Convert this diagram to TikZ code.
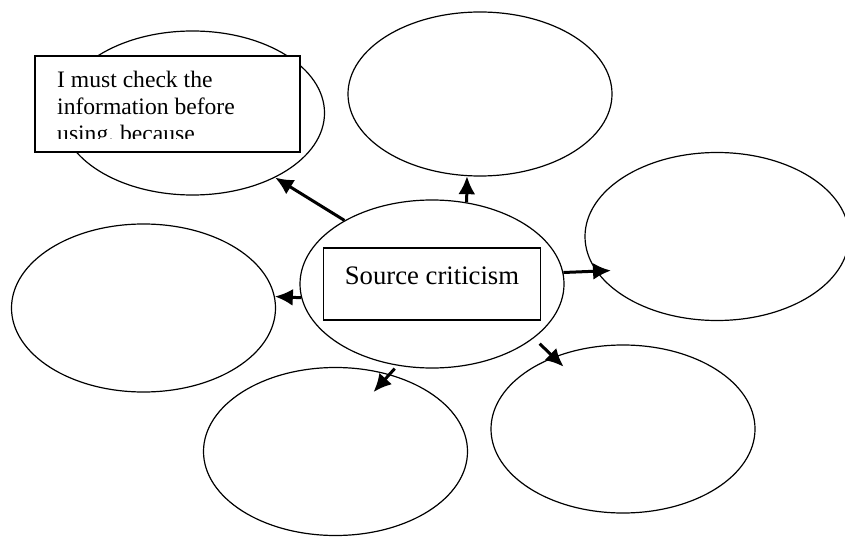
\documentclass[tikz,border=0pt]{standalone}
\usepackage{fontspec}
\setmainfont{Liberation Serif}
\usetikzlibrary{arrows.meta,shapes.geometric}
\tikzset{
    %Define style for the idea bubbles
    ideabubble/.style={
           ellipse,
           draw=black, line width=1.2pt,
           minimum width=264pt,
           minimum height=168pt,
           inner sep=0pt},
    ideabubbleflat/.style={
           ideabubble,
           minimum height=164pt},
    %Define style for the text boxes
    titlebox/.style={
           rectangle,
           draw=black, line width=1.5pt,
           fill=white,
           minimum width=217pt,
           minimum height=72pt,
           text height=18pt, text depth=18pt,
           font=\fontsize{26.7}{32}\selectfont},
    notebox/.style={
           titlebox,
           minimum width=265pt,
           minimum height=96pt},
    notetext/.style={
           inner sep=0pt,
           align=left,
           font=\fontsize{23.6}{26.7}\selectfont},
    spoke/.style={->, line width=3pt}
}

\begin{document}
\begin{tikzpicture}[x=1pt, y=-1pt, >={Latex[length=18pt,width=17pt]}]
\useasboundingbox (0,0) rectangle (845,537);
\node[ideabubble] (SC) at (432,284) {};
\node[ideabubbleflat] (TL) at (192.5,113) {};
\node[ideabubbleflat] (TC) at (480,94) {};
\node[ideabubble] (RT) at (717,236.5) {};
\node[ideabubble] (LT) at (143.5,308) {};
\node[ideabubble] (BC) at (335.5,451.5) {};
\node[ideabubble] (BR) at (623,429) {};
\node[titlebox] (SCbox) at (SC.center) {Source criticism};
\node[notebox] (TLbox) at (167.5,104) {};
%the last line of the note is cut off by the box
\begin{scope}
\clip ([xshift=1pt,yshift=-1pt]TLbox.north west) rectangle ([xshift=-1pt,yshift=14pt]TLbox.south east);
\node[notetext, anchor=base west] (TLtext) at (57,141.4) {I must check the\\information before\\using, because};
\end{scope}
\draw[spoke] (SC.144) -- (TL.-38);
\draw[spoke] (SC.67) -- (TC.-99);
\draw[spoke, shorten >=-15pt] (SC.5) -- (RT.196.5);
\draw[spoke] (SC.186) -- (LT.5);
\draw[spoke, shorten <=4pt, shorten >=-24pt] (SC.-113) -- (BC.55);
\draw[spoke, shorten <=8pt, shorten >=-14pt] (SC.-28.5) -- (BR.134.5);
\end{tikzpicture}
\end{document}
